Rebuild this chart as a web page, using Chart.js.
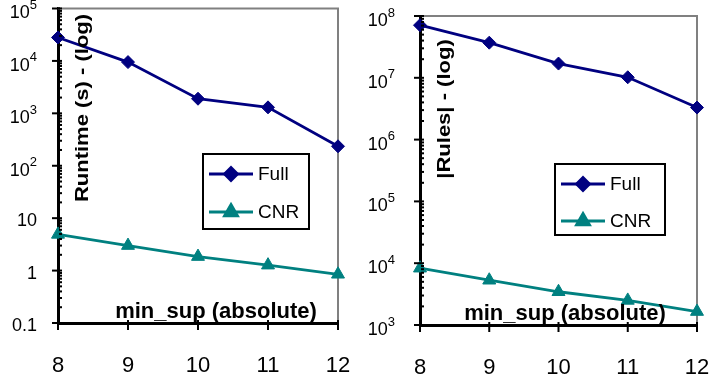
<!DOCTYPE html>
<html>
<head>
<meta charset="utf-8">
<script src="https://cdn.jsdelivr.net/npm/chart.js@4.4.1/dist/chart.umd.min.js"></script>
<style>
  html, body { margin: 0; padding: 0; background: #fff; }
  #wrap { position: relative; width: 711px; height: 376px; overflow: hidden; }
  .box { position: absolute; top: 0; height: 376px; }
</style>
</head>
<body>
<div id="wrap">
  <div class="box" style="left:0;width:355px"><canvas id="runtime"></canvas></div>
  <div class="box" style="left:355px;width:356px"><canvas id="rules"></canvas></div>
</div>
<script>
// data
const minSup = ['8', '9', '10', '11', '12'];
const runtimeFull = [28000, 9500, 1900, 1300, 235];
const runtimeCNR = [4.9, 3.0, 1.85, 1.27, 0.85];
const rulesFull = [71000000, 37000000, 17000000, 10200000, 3300000];
const rulesCNR = [8300, 5300, 3450, 2500, 1650];
const runtimeTicks = [0.1, 1, 10, 100, 1000, 10000, 100000];
const runtimeTickLabels = ['0.1', '1', '10', '10^2', '10^3', '10^4', '10^5'];
const rulesTicks = [1e3, 1e4, 1e5, 1e6, 1e7, 1e8];
const rulesTickLabels = ['10^3', '10^4', '10^5', '10^6', '10^7', '10^8'];
const seriesNames = ['Full', 'CNR'];

const FONT = "'Liberation Sans', Arial, sans-serif";
const NAVY = '#000080';
const TEAL = '#008080';

function makeSets(full, cnr) {
  return [
    { label: seriesNames[0], data: full, borderColor: NAVY, backgroundColor: NAVY,
      borderWidth: 2.8, pointStyle: 'rectRot', pointRadius: 6.5, pointBorderWidth: 1,
      clip: false, tension: 0 },
    { label: seriesNames[1], data: cnr, borderColor: TEAL, backgroundColor: TEAL,
      borderWidth: 2.8, pointStyle: 'triangle', pointRadius: 7.5, pointBorderWidth: 1,
      clip: false, tension: 0 }
  ];
}

const decor = {
  id: 'decor',
  beforeDatasetsDraw(chart) {
    const ctx = chart.ctx, a = chart.chartArea;
    ctx.save();
    ctx.strokeStyle = '#808080';
    ctx.lineWidth = 2;
    ctx.beginPath();
    ctx.moveTo(a.left, a.top);
    ctx.lineTo(a.right, a.top);
    ctx.lineTo(a.right, a.bottom);
    ctx.stroke();
    ctx.restore();
  },
  afterDraw(chart, args, o) {
    const ctx = chart.ctx, a = chart.chartArea;
    const ys = chart.scales.y, xs = chart.scales.x;
    ctx.save();
    ctx.strokeStyle = '#000';
    ctx.fillStyle = '#000';
    // y ticks: major crossing, minor small dots
    o.ticks.forEach((v, i) => {
      const py = ys.getPixelForValue(v);
      ctx.lineWidth = 2;
      ctx.beginPath();
      ctx.moveTo(a.left - 6, py);
      ctx.lineTo(a.left + 4, py);
      ctx.stroke();
      if (i < o.ticks.length - 1) {
        for (let k = 2; k < 10; k++) {
          const my = ys.getPixelForValue(v * k);
          ctx.fillRect(a.left + 1, my - 1, 3, 2);
        }
      }
      // label, with exponent raised
      const parts = o.labels[i].split('^');
      ctx.textBaseline = 'middle';
      ctx.font = '18px ' + FONT;
      const bw = ctx.measureText(parts[0]).width;
      let ew = 0;
      if (parts[1]) {
        ctx.font = '13px ' + FONT;
        ew = ctx.measureText(parts[1]).width;
      }
      const x0 = a.left - o.labelGap - bw - ew;
      ctx.font = '18px ' + FONT;
      ctx.textAlign = 'left';
      ctx.fillText(parts[0], x0, py + (parts[1] ? 5 : 3));
      if (parts[1]) {
        ctx.font = '13px ' + FONT;
        ctx.fillText(parts[1], x0 + bw, py - 3);
      }
    });
    // x ticks
    minSup.forEach((c, i) => {
      const px = xs.getPixelForValue(i);
      ctx.lineWidth = 2;
      ctx.beginPath();
      ctx.moveTo(px, a.bottom - 3);
      ctx.lineTo(px, a.bottom + 7);
      ctx.stroke();
    });
    // axis titles inside the plot
    ctx.font = 'bold 22px ' + FONT;
    ctx.textAlign = 'center';
    ctx.textBaseline = 'alphabetic';
    ctx.fillText('min_sup (absolute)', o.xTitle[0], o.xTitle[1]);
    ctx.save();
    ctx.translate(o.yTitle[0], o.yTitle[1]);
    ctx.rotate(-Math.PI / 2);
    ctx.scale(1, 0.85);
    ctx.fillText(o.yTitleText, 0, 0);
    ctx.restore();
    // legend box
    const L = o.legend;
    ctx.lineWidth = 2;
    ctx.strokeRect(L.x, L.y, L.w, L.h);
    chart.data.datasets.forEach((ds, i) => {
      const ry = L.y + L.row0 + i * L.rowStep;
      ctx.strokeStyle = ds.borderColor;
      ctx.lineWidth = 2.8;
      ctx.beginPath();
      ctx.moveTo(L.x + 6, ry);
      ctx.lineTo(L.x + 50, ry);
      ctx.stroke();
      ctx.fillStyle = ds.backgroundColor;
      Chart.helpers.drawPoint(ctx, { pointStyle: ds.pointStyle, radius: ds.pointRadius, borderWidth: 1 }, L.x + 28, ry);
      ctx.fillStyle = '#000';
      ctx.font = '19px ' + FONT;
      ctx.textAlign = 'left';
      ctx.textBaseline = 'middle';
      ctx.fillText(ds.label, L.x + 55, ry + 1);
    });
    ctx.restore();
  }
};

function makeChart(id, full, cnr, opts) {
  return new Chart(document.getElementById(id), {
    type: 'line',
    data: { labels: minSup, datasets: makeSets(full, cnr) },
    options: {
      responsive: true,
      maintainAspectRatio: false,
      animation: false,
      layout: { padding: { top: opts.top, right: opts.right, left: 0, bottom: 0 } },
      plugins: {
        legend: { display: false },
        tooltip: { enabled: false },
        decor: opts.decor
      },
      scales: {
        x: {
          type: 'category',
          offset: false,
          grid: { display: false },
          border: { display: true, color: '#000', width: 3 },
          ticks: { color: '#000', font: { family: FONT, size: 22 }, padding: opts.xPad, maxRotation: 0 },
          afterFit(s) { s.height = opts.xHeight; s.paddingLeft = 0; s.paddingRight = 0; }
        },
        y: {
          type: 'logarithmic',
          min: opts.min,
          max: opts.max,
          grid: { display: false },
          border: { display: true, color: '#000', width: 3 },
          ticks: { display: false },
          afterFit(s) { s.width = opts.yWidth; s.paddingTop = 0; s.paddingBottom = 0; }
        }
      }
    },
    plugins: [decor]
  });
}

makeChart('runtime', runtimeFull, runtimeCNR, {
  top: 7, right: 17, xHeight: 53, yWidth: 58, xPad: 22, min: 0.1, max: 1e5,
  decor: {
    ticks: runtimeTicks, labels: runtimeTickLabels, labelGap: 21,
    yTitleText: 'Runtime (s) - (log)', yTitle: [88, 108], xTitle: [216, 318],
    legend: { x: 203, y: 154, w: 106, h: 75, row0: 20, rowStep: 38 }
  }
});

makeChart('rules', rulesFull, rulesCNR, {
  top: 16, right: 14, xHeight: 51, yWidth: 65, xPad: 22, min: 1e3, max: 1e8,
  decor: {
    ticks: rulesTicks, labels: rulesTickLabels, labelGap: 25,
    yTitleText: '|Rules| - (log)', yTitle: [95, 109], xTitle: [210, 319.5],
    legend: { x: 200, y: 164, w: 110, h: 71, row0: 20, rowStep: 37 }
  }
});
</script>
</body>
</html>
